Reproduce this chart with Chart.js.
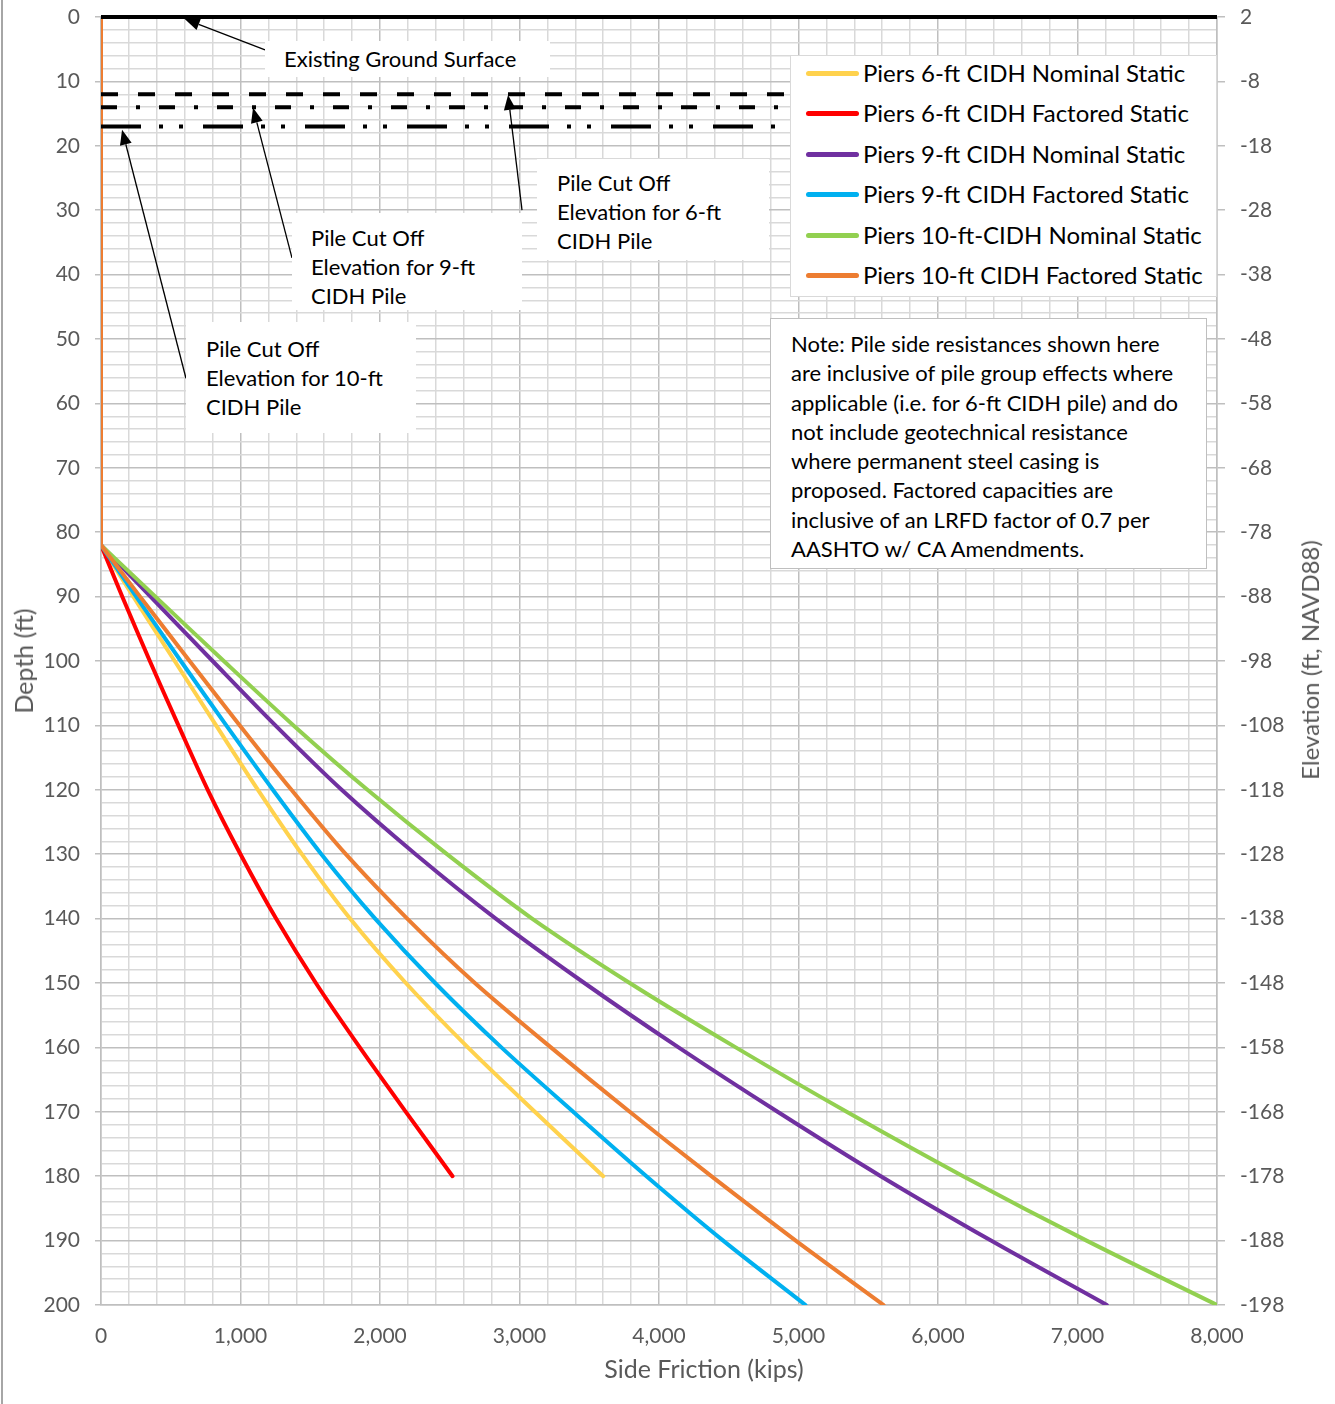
<!DOCTYPE html>
<html>
<head>
<meta charset="utf-8">
<script src="https://cdn.jsdelivr.net/npm/chart.js@4.4.1/dist/chart.umd.min.js"></script>
<style>
  body { margin: 0; background: #fff; }
  #wrap { position: relative; width: 1335px; height: 1404px; background: #fff; font-family: Lato, "Open Sans", sans-serif; overflow: hidden; }
  #c { position: absolute; left: 0; top: 0; }
  .box { position: absolute; background: #fff; color: #000; font-size: 22px; line-height: 29px; white-space: nowrap; box-sizing: border-box; }
  .row { position: absolute; height: 30px; line-height: 30px; font-size: 24px; }
  .swatch { position: absolute; width: 53px; height: 5px; border-radius: 3px; }
  .axisTitle { position: absolute; color: #595959; white-space: nowrap; transform: translate(-50%, -50%); line-height: 30px; }
  #frame { position: absolute; left: 1px; top: 0; width: 2px; height: 1404px; background: #a6a6a6; }
</style>
</head>
<body>
<div id="wrap">
  <canvas id="c" width="1335" height="1404"></canvas>
  <div id="frame"></div>
  <div class="box" style="left:265px;top:41px;width:285px;height:36px;padding:3px 0 0 19px;">Existing Ground Surface</div>
  <div class="box" style="left:537px;top:159px;width:232px;height:101px;padding:9px 0 0 20px;">Pile Cut Off<br>Elevation for 6-ft<br>CIDH Pile</div>
  <div class="box" style="left:292px;top:213px;width:230px;height:97px;padding:10px 0 0 19px;">Pile Cut Off<br>Elevation for 9-ft<br>CIDH Pile</div>
  <div class="box" style="left:186px;top:322px;width:230px;height:111px;padding:12px 0 0 20px;">Pile Cut Off<br>Elevation for 10-ft<br>CIDH Pile</div>
  <div class="box" style="left:770px;top:318px;width:437px;height:251px;border:1px solid #bfbfbf;padding:10px 0 0 20px;line-height:29.3px;">Note: Pile side resistances shown here<br>are inclusive of pile group effects where<br>applicable (i.e. for 6-ft CIDH pile) and do<br>not include geotechnical resistance<br>where permanent steel casing is<br>proposed. Factored capacities are<br>inclusive of an LRFD factor of 0.7 per<br>AASHTO w/ CA Amendments.</div>
  <div id="legend" class="box" style="left:790px;top:55px;width:427px;height:242px;border:1px solid #d9d9d9;"></div>
  <div class="axisTitle" style="left:704px;top:1368px;font-size:25px;">Side Friction (kips)</div>
  <div class="axisTitle" style="left:23px;top:661px;font-size:25px;transform:translate(-50%,-50%) rotate(-90deg);">Depth (ft)</div>
  <div class="axisTitle" style="left:1310px;top:660px;font-size:24px;transform:translate(-50%,-50%) rotate(-90deg);">Elevation (ft, NAVD88)</div>
</div>
<script>
const depthFt = [0, 82, 90, 100, 110, 120, 130, 140, 150, 160, 170, 180, 190, 200];

const pier6Nominal = [0, 0, 232, 528, 825, 1125, 1440, 1785, 2185, 2630, 3110, 3600];
const pier6Factored = [0, 0, 152, 350, 555, 765, 1000, 1255, 1540, 1855, 2185, 2520];
const pier9Nominal = [0, 0, 355, 800, 1250, 1725, 2255, 2830, 3465, 4140, 4850, 5590, 6380, 7210];
const pier9Factored = [0, 0, 252, 572, 898, 1232, 1580, 1965, 2395, 2870, 3385, 3910, 4460, 5050];
const pier10Nominal = [0, 0, 390, 880, 1380, 1910, 2480, 3090, 3790, 4550, 5345, 6180, 7065, 8000];
const pier10Factored = [0, 0, 280, 635, 995, 1365, 1755, 2195, 2680, 3225, 3790, 4375, 4980, 5610];

const seriesNames = [
  "Piers 6-ft CIDH Nominal Static",
  "Piers 6-ft CIDH Factored Static",
  "Piers 9-ft CIDH Nominal Static",
  "Piers 9-ft CIDH Factored Static",
  "Piers 10-ft-CIDH Nominal Static",
  "Piers 10-ft CIDH Factored Static",
];
const seriesValues = [pier6Nominal, pier6Factored, pier9Nominal, pier9Factored, pier10Nominal, pier10Factored];
const seriesColors = ["#ffd24d", "#ff0000", "#7030a0", "#00b0f0", "#92d050", "#ed7d31"];

// pile cut off elevations (depth, ft) and existing ground surface
const cutoffDepths = [12, 14, 17];
const cutoffDashes = [[17, 20], [16, 19, 4, 19], [40, 18, 4, 16, 4, 20]];
const groundDepth = 0;

// callout arrows: [side friction, depth] tail -> head
const arrowTails = [[1176, 5.1], [3018, 30.0], [1369, 37.4], [609, 56.1]];
const arrowHeads = [[600, 0.3], [2918, 12.1], [1090, 14.1], [151, 17.5]];

const frictionMajor = [0, 1000, 2000, 3000, 4000, 5000, 6000, 7000, 8000];
const depthMajor = [0, 10, 20, 30, 40, 50, 60, 70, 80, 90, 100, 110, 120, 130, 140, 150, 160, 170, 180, 190, 200];
const elevationTicks = [2, -8, -18, -28, -38, -48, -58, -68, -78, -88, -98, -108, -118, -128, -138, -148, -158, -168, -178, -188, -198];

const FONT = "Lato, 'Open Sans', sans-serif";
const TICK_GRAY = "#595959";

const frictionGrid = [];
for (let v = 0; v <= 8000; v += 200) frictionGrid.push(v);
const depthGrid = [];
for (let v = 0; v <= 200; v += 2) depthGrid.push(v);

function isMajor(value, step) {
  return Math.abs(value % step) < 1e-6;
}

function buildLegend() {
  const legend = document.getElementById("legend");
  seriesNames.forEach((name, i) => {
    const top = 17 + 40.4 * i;
    const sw = document.createElement("div");
    sw.className = "swatch";
    sw.style.left = "15px";
    sw.style.top = (top - 2) + "px";
    sw.style.background = seriesColors[i];
    legend.appendChild(sw);
    const row = document.createElement("div");
    row.className = "row";
    row.style.left = "72px";
    row.style.top = (top - 15) + "px";
    row.textContent = name;
    legend.appendChild(row);
  });
}

// keep the plot area where the original has it: labels may overhang the top
function fitVertical(width) {
  return (s) => {
    s.width = width;
    s.paddingTop = 12;
    s.paddingBottom = 12;
  };
}

const arrowPlugin = {
  id: "calloutArrows",
  afterDatasetsDraw(chart) {
    const { ctx } = chart;
    const xs = chart.scales.x;
    const ys = chart.scales.y;
    ctx.save();
    ctx.strokeStyle = "#000";
    ctx.fillStyle = "#000";
    ctx.lineWidth = 1.3;
    arrowTails.forEach((tail, i) => {
      const head = arrowHeads[i];
      const x1 = xs.getPixelForValue(tail[0]);
      const y1 = ys.getPixelForValue(tail[1]);
      const x2 = xs.getPixelForValue(head[0]);
      const y2 = ys.getPixelForValue(head[1]);
      const ang = Math.atan2(y2 - y1, x2 - x1);
      const len = 15;
      const half = 6;
      const bx = x2 - len * Math.cos(ang);
      const by = y2 - len * Math.sin(ang);
      ctx.beginPath();
      ctx.moveTo(x1, y1);
      ctx.lineTo(bx, by);
      ctx.stroke();
      ctx.beginPath();
      ctx.moveTo(x2, y2);
      ctx.lineTo(bx - half * Math.sin(ang), by + half * Math.cos(ang));
      ctx.lineTo(bx + half * Math.sin(ang), by - half * Math.cos(ang));
      ctx.closePath();
      ctx.fill();
    });
    ctx.restore();
  },
};

const datasets = [];
seriesValues.forEach((values, i) => {
  const pts = values.map((v, k) => ({ x: v, y: depthFt[k] }));
  const common = {
    borderColor: seriesColors[i],
    backgroundColor: seriesColors[i],
    borderWidth: 4,
    borderCapStyle: "round",
    borderJoinStyle: "round",
    showLine: true,
    pointRadius: 0,
    order: 10 - i,
  };
  // straight shaft above the bearing layer, then the smooth resistance curve
  datasets.push({ ...common, label: seriesNames[i] + " (shaft)", data: pts.slice(0, 2), tension: 0 });
  datasets.push({ ...common, label: seriesNames[i], data: pts.slice(1), tension: 0.3 });
});
cutoffDepths.forEach((d, i) => {
  datasets.push({
    label: "cutoff " + d,
    data: [{ x: 0, y: d }, { x: 8000, y: d }],
    borderColor: "#000",
    borderWidth: 4,
    borderDash: cutoffDashes[i],
    borderCapStyle: "butt",
    showLine: true,
    pointRadius: 0,
    order: 2,
  });
});
datasets.push({
  label: "Existing Ground Surface",
  data: [{ x: 0, y: groundDepth }, { x: 8000, y: groundDepth }],
  borderColor: "#000",
  borderWidth: 4,
  showLine: true,
  pointRadius: 0,
  clip: false,
  order: 0,
});

buildLegend();

new Chart(document.getElementById("c").getContext("2d"), {
  type: "scatter",
  data: { datasets },
  plugins: [arrowPlugin],
  options: {
    responsive: false,
    animation: false,
    devicePixelRatio: 1,
    layout: { padding: { top: 17, left: 0, right: 0, bottom: 0 } },
    plugins: { legend: { display: false }, tooltip: { enabled: false } },
    scales: {
      x: {
        type: "linear",
        position: "bottom",
        min: 0,
        max: 8000,
        afterBuildTicks: (s) => { s.ticks = frictionGrid.map((v) => ({ value: v })); },
        afterFit: (s) => { s.height = 99; },
        grid: {
          color: (c) => (c.tick && isMajor(c.tick.value, 1000) ? "#bfbfbf" : "#d9d9d9"),
          lineWidth: 1.5,
          tickLength: 8,
          tickColor: "rgba(0,0,0,0)",
        },
        border: { color: "#bfbfbf", width: 1.5 },
        ticks: {
          autoSkip: false,
          maxRotation: 0,
          padding: 11,
          color: TICK_GRAY,
          font: { family: FONT, size: 21 },
          callback: (v) => (frictionMajor.includes(v) ? v.toLocaleString("en-US") : ""),
        },
      },
      y: {
        type: "linear",
        position: "left",
        reverse: true,
        min: 0,
        max: 200,
        afterBuildTicks: (s) => { s.ticks = depthGrid.map((v) => ({ value: v })); },
        afterFit: fitVertical(101),
        grid: {
          color: (c) => (c.tick && isMajor(c.tick.value, 10) ? "#bfbfbf" : "#d9d9d9"),
          lineWidth: 1.5,
          tickLength: 6,
          tickColor: (c) => (c.tick && isMajor(c.tick.value, 10) ? "#bfbfbf" : "rgba(0,0,0,0)"),
        },
        border: { color: "#bfbfbf", width: 1.5 },
        ticks: {
          autoSkip: false,
          padding: 15,
          color: TICK_GRAY,
          font: { family: FONT, size: 21 },
          callback: (v) => (depthMajor.includes(v) ? String(v) : ""),
        },
      },
      y2: {
        type: "linear",
        position: "right",
        min: -198,
        max: 2,
        afterBuildTicks: (s) => { s.ticks = elevationTicks.map((v) => ({ value: v })); },
        afterFit: fitVertical(118),
        grid: { drawOnChartArea: false, tickLength: 8, tickColor: "#bfbfbf", lineWidth: 1.5 },
        border: { color: "#bfbfbf", width: 1.5 },
        ticks: {
          autoSkip: false,
          padding: 15,
          color: TICK_GRAY,
          font: { family: FONT, size: 21 },
          callback: (v) => String(v),
        },
      },
    },
  },
});
</script>
</body>
</html>
